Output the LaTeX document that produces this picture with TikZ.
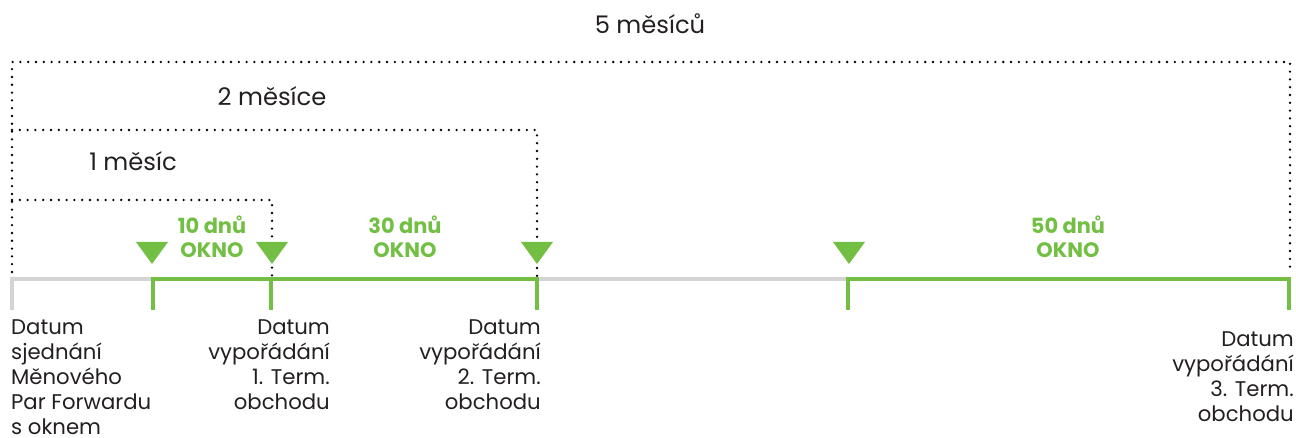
\documentclass[tikz,border=0pt]{standalone}
\usepackage{fontspec}
\setmainfont{Poppins}
\usetikzlibrary{calc}
\definecolor{okgreen}{HTML}{72BF44}
\definecolor{axisgray}{HTML}{D4D4D4}
\definecolor{txt}{HTML}{231F20}
\tikzset{
  dots/.style={draw=black, line width=2.6bp, line cap=round, dash pattern=on 0pt off 7.8bp},
  axisline/.style={line width=4.8bp, line cap=butt, line join=miter},
  lbl/.style={inner sep=0pt, text=txt, font=\fontsize{21.3}{25}\selectfont},
  toplbl/.style={inner sep=0pt, text=txt, font=\fontsize{24.3}{28}\selectfont},
  wintext/.style={inner sep=0pt, text=okgreen, align=center, font=\fontsize{21}{24.5}\selectfont\bfseries},
  tri/.style={fill=okgreen}
}
\begin{document}
\begin{tikzpicture}[x=1bp,y=-1bp]
\useasboundingbox (0,0) rectangle (1296,438);
% timeline points
\coordinate (t0) at (12,279);
\coordinate (t1) at (153,279);
\coordinate (t2) at (271,279);
\coordinate (t3) at (537,279);
\coordinate (t4) at (848,279);
\coordinate (t5) at (1289,279);
\coordinate (d0) at (12,310);
\coordinate (d1) at (153,310);
\coordinate (d2) at (271,310);
\coordinate (d3) at (537,310);
\coordinate (d4) at (848,310);
\coordinate (d5) at (1289,310);
% dotted brackets
\coordinate (b5l) at (12,62);
\coordinate (b5r) at (1290,62);
\coordinate (b5e) at (1290,272);
\coordinate (b2l) at (12,130);
\coordinate (b2r) at (537,130);
\coordinate (b2e) at (537,276);
\coordinate (b1l) at (12,200);
\coordinate (b1r) at (272,200);
\coordinate (b1e) at (272,278);
\coordinate (b0e) at (12,272);
\draw[dots] (b0e) -- (b5l) -- (b5r) -- (b5e);
\draw[dots] (b2l) -- (b2r) -- (b2e);
\draw[dots] (b1l) -- (b1r) -- (b1e);
% axis
\draw[axisline, axisgray] (d0) -- (t0) -- (t1);
\draw[axisline, axisgray] (t3) -- (t4);
\draw[axisline, okgreen] (d1) -- (t1) -- (t3) -- (d3);
\draw[axisline, okgreen] (t2) -- (d2);
\draw[axisline, okgreen] (d4) -- (t4) -- (t5) -- (d5);
% triangles
\coordinate (m1) at (152,264);
\coordinate (m2) at (272,264);
\coordinate (m3) at (537,264);
\coordinate (m4) at (849,264);
\foreach \m in {m1,m2,m3,m4}
  \fill[tri] (\m) -- ++(-16,-22) -- ++(32,0) -- cycle;
% window labels
\node[wintext] (w1) at (212,237) {10 dnů\\OKNO};
\node[wintext] (w2) at (405,237) {30 dnů\\OKNO};
\node[wintext] (w3) at (1068,237) {50 dnů\\OKNO};
% period labels
\node[toplbl] (p5) at (650,24) {5 měsíců};
\node[toplbl] (p2) at (272,96) {2 měsíce};
\node[toplbl] (p1) at (133,161) {1 měsíc};
% date labels
\node[lbl, anchor=north west, align=left] (l0) at (11,320) {Datum\\sjednání\\Měnového\\Par Forwardu\\s oknem};
\node[lbl, anchor=north east, align=right] (l1) at (330,320) {Datum\\vypořádání\\1. Term.\\obchodu};
\node[lbl, anchor=north east, align=right] (l2) at (541,320) {Datum\\vypořádání\\2. Term.\\obchodu};
\node[lbl, anchor=north east, align=right] (l3) at (1294,332) {Datum\\vypořádání\\3. Term.\\obchodu};
\end{tikzpicture}
\end{document}
